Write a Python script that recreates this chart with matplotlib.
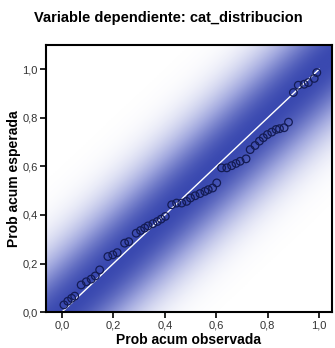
import numpy as np
import matplotlib.pyplot as plt
from matplotlib.colors import LinearSegmentedColormap

plt.rcParams['font.family'] = ['Liberation Sans', 'DejaVu Sans']

# P-P plot values
prob_obs = [0.008, 0.023, 0.038, 0.050, 0.075, 0.095, 0.114, 0.130, 0.147,
            0.179, 0.198, 0.215, 0.244, 0.260, 0.289, 0.306, 0.322, 0.335,
            0.354, 0.371, 0.386, 0.402, 0.427, 0.446, 0.466, 0.485, 0.500,
            0.518, 0.537, 0.556, 0.569, 0.586, 0.602, 0.621, 0.641, 0.660,
            0.677, 0.693, 0.716, 0.732, 0.751, 0.768, 0.783, 0.799, 0.816,
            0.833, 0.846, 0.864, 0.881, 0.900, 0.919, 0.942, 0.958, 0.981,
            0.991]
prob_esp = [0.030, 0.045, 0.057, 0.066, 0.112, 0.125, 0.136, 0.149, 0.174,
            0.229, 0.236, 0.245, 0.284, 0.290, 0.325, 0.336, 0.346, 0.355,
            0.364, 0.373, 0.383, 0.394, 0.442, 0.449, 0.449, 0.456, 0.470,
            0.479, 0.488, 0.497, 0.504, 0.511, 0.532, 0.594, 0.594, 0.603,
            0.612, 0.621, 0.631, 0.669, 0.686, 0.704, 0.718, 0.731, 0.741,
            0.752, 0.755, 0.759, 0.782, 0.904, 0.934, 0.938, 0.945, 0.962,
            0.986]
ticks = [0.0, 0.2, 0.4, 0.6, 0.8, 1.0]
tick_labels = ['0,0', '0,2', '0,4', '0,6', '0,8', '1,0']

fig = plt.figure(figsize=(3.35, 3.48), dpi=100)
ax = fig.add_axes([0.137, 0.103, 0.854, 0.768])
xlim = (-0.062, 1.05)
ylim = (0.0, 1.10)

# blue band around the diagonal
gx = np.linspace(xlim[0], xlim[1], 400)
gy = np.linspace(ylim[0], ylim[1], 400)
X, Y = np.meshgrid(gx, gy)
w = np.exp(-0.5 * (np.abs(Y - X) / 0.2) ** 2.2)
cmap = LinearSegmentedColormap.from_list('banda', ['#ffffff', '#a0a7de', '#3a49b0'])
ax.imshow(w, extent=[xlim[0], xlim[1], ylim[0], ylim[1]], origin='lower',
          cmap=cmap, vmin=0, vmax=1, aspect='auto', interpolation='bilinear',
          zorder=0)

ax.plot([0, 1], [0, 1], color='white', lw=1, zorder=2)
ax.scatter(prob_obs, prob_esp, s=30, facecolors='none', edgecolors='#141c55',
           linewidths=0.9, zorder=3)

ax.set_xlim(xlim)
ax.set_ylim(ylim)
ax.set_xticks(ticks)
ax.set_xticklabels(tick_labels)
ax.set_yticks(ticks)
ax.set_yticklabels(tick_labels)
ax.tick_params(direction='out', length=4, width=1.2, labelsize=8,
               labelcolor='#333333', pad=2)
for s in ax.spines.values():
    s.set_linewidth(1.5)
    s.set_color('black')

ax.set_xlabel('Prob acum observada', fontsize=10, fontweight='bold', labelpad=2)
ax.set_ylabel('Prob acum esperada', fontsize=10, fontweight='bold', labelpad=1)
fig.text(0.503, 0.948, 'Variable dependiente: cat_distribucion', fontsize=10.5,
         fontweight='bold', ha='center', va='center')

fig.savefig('out.png', dpi=100)
